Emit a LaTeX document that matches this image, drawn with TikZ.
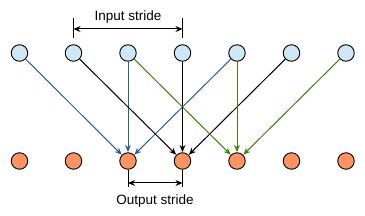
\documentclass[tikz,border=0pt]{standalone}
\usepackage{fontspec}
\setmainfont{Liberation Sans}
\usetikzlibrary{arrows.meta}
\definecolor{cellblue}{HTML}{CFE7F5}
\definecolor{cellorange}{HTML}{FF9361}
\definecolor{linkblue}{HTML}{2A6099}
\definecolor{linkgreen}{HTML}{3F7F12}

\begin{document}
\begin{tikzpicture}[x=1pt,y=-1pt,
  incell/.style={circle,draw=black,fill=cellblue,line width=0.9pt,minimum size=16.5pt,inner sep=0pt},
  outcell/.style={circle,draw=black,fill=cellorange,line width=0.9pt,minimum size=16.5pt,inner sep=0pt},
  link/.style={-{Stealth[length=7pt,width=6pt]},line width=1pt,shorten >=0.3pt},
  bar/.style={line width=1pt},
  gap/.style={{Stealth[length=7pt,width=6pt]}-{Stealth[length=7pt,width=6pt]},line width=1pt},
  lbl/.style={font=\fontsize{13.5}{16}\selectfont,inner sep=0pt}]
\useasboundingbox (0,0) rectangle (365,216);
% input cells
\node[incell] (t1) at (19.5,53) {};
\node[incell] (t2) at (73.5,53) {};
\node[incell] (t3) at (128,53) {};
\node[incell] (t4) at (182.5,53) {};
\node[incell] (t5) at (237,53) {};
\node[incell] (t6) at (291.5,53) {};
\node[incell] (t7) at (346,53) {};
% output cells
\node[outcell] (b1) at (19.5,161) {};
\node[outcell] (b2) at (73.5,161) {};
\node[outcell] (b3) at (128,161) {};
\node[outcell] (b4) at (182.5,161) {};
\node[outcell] (b5) at (237,161) {};
\node[outcell] (b6) at (291.5,161) {};
\node[outcell] (b7) at (346,161) {};
% links
\draw[link,linkblue] (t1) -- (b3);
\draw[link,linkblue] (t3) -- (b3);
\draw[link,linkblue] (t5) -- (b3);
\draw[link,black] (t2) -- (b4);
\draw[link,black] (t4) -- (b4);
\draw[link,black] (t6) -- (b4);
\draw[link,linkgreen] (t3) -- (b5);
\draw[link,linkgreen] (t5) -- (b5);
\draw[link,linkgreen] (t7) -- (b5);
% input stride
\coordinate (ia1) at (73.5,18);
\coordinate (ib1) at (73.5,38);
\coordinate (ia2) at (182.5,18);
\coordinate (ib2) at (182.5,38);
\coordinate (im1) at (73.5,29);
\coordinate (im2) at (182.5,29);
\draw[bar] (ia1) -- (ib1);
\draw[bar] (ia2) -- (ib2);
\draw[gap] (im1) -- (im2);
\node[lbl] (instride) at (128,17) {Input stride};
% output stride
\coordinate (ob1) at (128,187);
\coordinate (ob2) at (182.5,187);
\coordinate (om1) at (128,183);
\coordinate (om2) at (182.5,183);
\draw[bar] (b3) -- (ob1);
\draw[bar] (b4) -- (ob2);
\draw[gap] (om1) -- (om2);
\node[lbl] (outstride) at (155,201) {Output stride};
\end{tikzpicture}
\end{document}
